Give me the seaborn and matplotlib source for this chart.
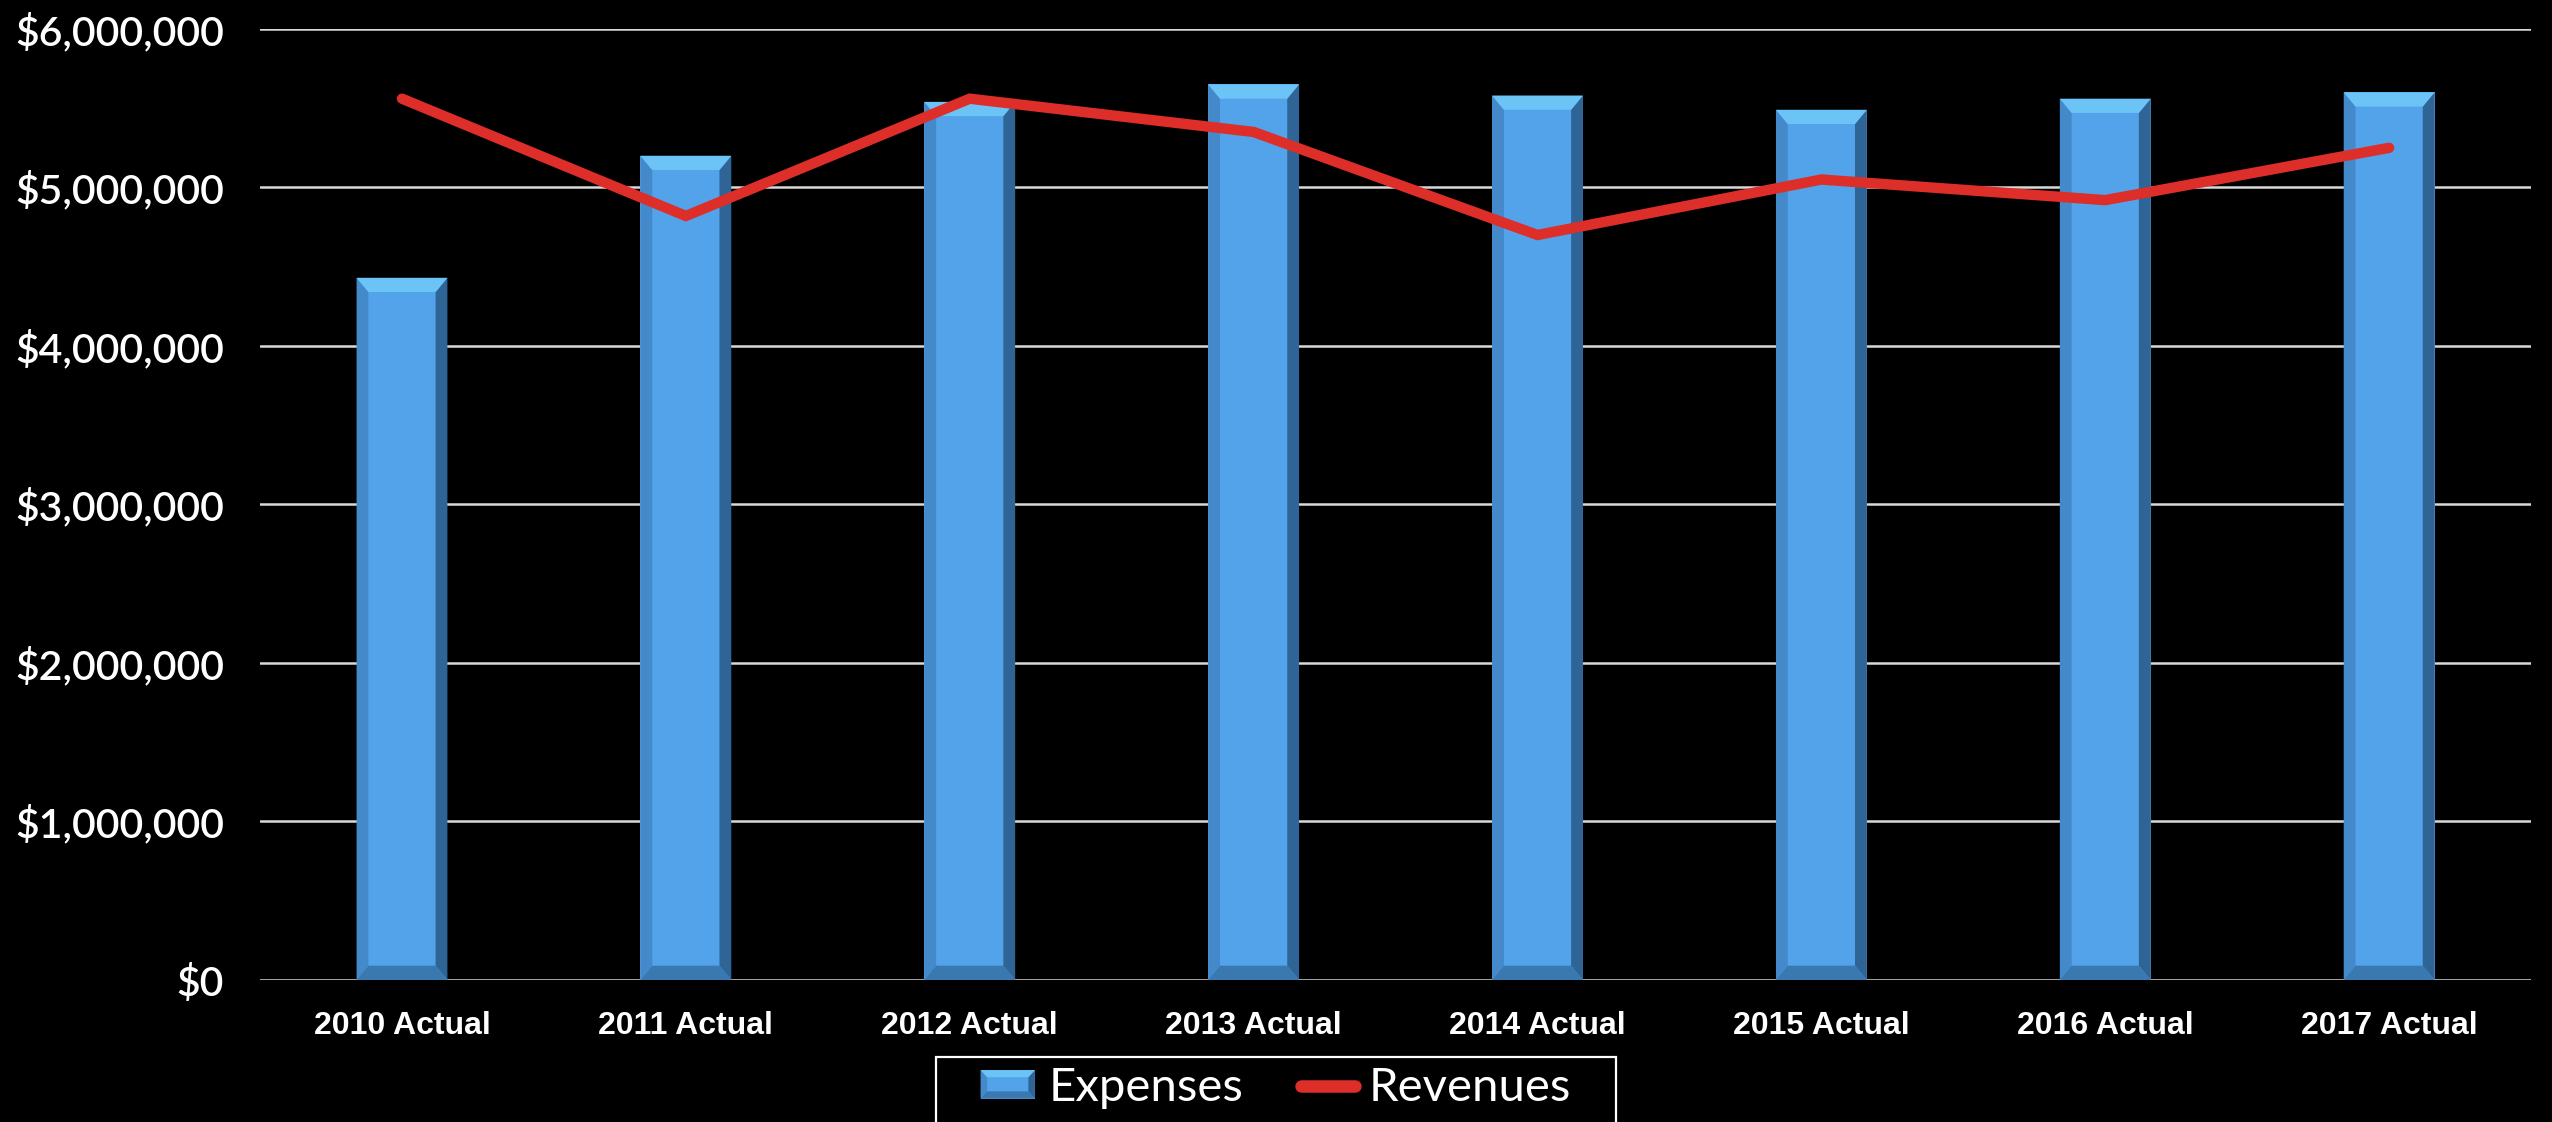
import numpy as np
import pandas as pd
import matplotlib
matplotlib.use("Agg")
import matplotlib.pyplot as plt
from matplotlib.patches import Polygon, Patch, Rectangle
from matplotlib.lines import Line2D
from matplotlib.legend_handler import HandlerBase
from matplotlib.ticker import FuncFormatter
import seaborn as sns

# ---- data ----
categories = ["2010 Actual", "2011 Actual", "2012 Actual", "2013 Actual",
              "2014 Actual", "2015 Actual", "2016 Actual", "2017 Actual"]
expenses = [4430000, 5200000, 5540000, 5650000, 5580000, 5490000, 5560000, 5600000]
revenues = [5560000, 4820000, 5560000, 5350000, 4700000, 5050000, 4920000, 5250000]
y_ticks = [0, 1000000, 2000000, 3000000, 4000000, 5000000, 6000000]

df = pd.DataFrame({"Year": categories, "Expenses": expenses, "Revenues": revenues})

sns.set_theme(style="dark")
plt.rcParams["font.family"] = ["Liberation Sans", "DejaVu Sans"]

BAR_MAIN = "#52A3E9"
BAR_LEFT = "#4489C9"
BAR_RIGHT = "#2F6497"
BAR_TOP = "#6CC3F6"
BAR_BOTTOM = "#3A78B0"
RED = "#DD2E2A"


def bevel_polys(x, y0, w, h, d, bh):
    top = y0 + h
    return [
        ([(x, y0), (x + d, y0 + bh), (x + d, top - bh), (x, top)], BAR_LEFT),
        ([(x + w, y0), (x + w - d, y0 + bh), (x + w - d, top - bh), (x + w, top)], BAR_RIGHT),
        ([(x, top), (x + w, top), (x + w - d, top - bh), (x + d, top - bh)], BAR_TOP),
        ([(x, y0), (x + w, y0), (x + w - d, y0 + bh), (x + d, y0 + bh)], BAR_BOTTOM),
    ]


class BevelHandler(HandlerBase):
    def create_artists(self, legend, orig_handle, xdescent, ydescent, width, height,
                       fontsize, trans):
        x, y = -xdescent, -ydescent
        arts = [Rectangle((x, y), width, height, facecolor=BAR_MAIN, edgecolor="none",
                          transform=trans)]
        for verts, c in bevel_polys(x, y, width, height, width * 0.12, height * 0.25):
            arts.append(Polygon(verts, closed=True, facecolor=c, edgecolor="none",
                                transform=trans))
        return arts


W, H = 2552, 1122
fig = plt.figure(figsize=(W / 100, H / 100), dpi=100, facecolor="black")
ax = fig.add_axes([0.1019, 0.1266, 0.8899, 0.8476])
ax.set_facecolor("black")

sns.barplot(data=df, x="Year", y="Expenses", color=BAR_MAIN, width=0.32,
            saturation=1, ax=ax, zorder=2, linewidth=0)

# bevel decoration derived from each bar patch
for p in list(ax.patches):
    for verts, c in bevel_polys(p.get_x(), p.get_y(), p.get_width(), p.get_height(),
                                p.get_width() * 0.13, 90000):
        ax.add_patch(Polygon(verts, closed=True, facecolor=c, edgecolor="none", zorder=2.5))

sns.lineplot(x=np.arange(len(categories)), y=revenues, color=RED, linewidth=7.5,
             ax=ax, zorder=4, solid_capstyle="round", solid_joinstyle="miter")

ax.set_ylim(0, 6000000)
ax.set_xlim(-0.5, len(categories) - 0.5)
ax.set_yticks(y_ticks)
ax.yaxis.set_major_formatter(FuncFormatter(lambda v, pos: f"${v:,.0f}"))
ax.set_xlabel("")
ax.set_ylabel("")
ax.grid(axis="y", color="#D9D9D9", linewidth=1.8, zorder=1)
ax.grid(axis="x", visible=False)
ax.set_axisbelow(True)
for s in ax.spines.values():
    s.set_visible(False)

ax.tick_params(axis="x", length=0, pad=22, labelsize=23, colors="white")
ax.tick_params(axis="y", length=0, pad=26, labelsize=29.5, colors="white")
for t in ax.get_yticklabels():
    t.set_family(["Lato", "DejaVu Sans"])
    t.set_fontweight("semibold")
for t in ax.get_xticklabels():
    t.set_family(["Liberation Sans", "DejaVu Sans"])
    t.set_fontweight("bold")

bar_handle = Patch(facecolor=BAR_MAIN, label="Expenses")
line_handle = Line2D([0], [0], color=RED, linewidth=9, solid_capstyle="round", label="Revenues")
leg = fig.legend(handles=[bar_handle, line_handle], loc="center",
                 bbox_to_anchor=(0.5, 1 - 1088 / H), ncol=2, frameon=False,
                 prop={"family": ["Lato", "DejaVu Sans"], "size": 34},
                 handlelength=1.15, handleheight=0.55, columnspacing=1.2, handletextpad=0.3,
                 borderpad=0.0, borderaxespad=0, handler_map={Patch: BevelHandler()})
for t in leg.get_texts():
    t.set_color("white")

# frame around the legend, sized from the legend's own extent
fig.canvas.draw()
ext = leg.get_window_extent()
cx = (ext.x0 + ext.x1) / 2
half_w = 340
frame = Rectangle(((cx - half_w) / W, -0.05), 2 * half_w / W, (H - 1057) / H + 0.05,
                  transform=fig.transFigure, facecolor="none", edgecolor="white",
                  linewidth=1.6, zorder=10)
fig.patches.append(frame)

fig.savefig("out.png", dpi=100, facecolor="black")
